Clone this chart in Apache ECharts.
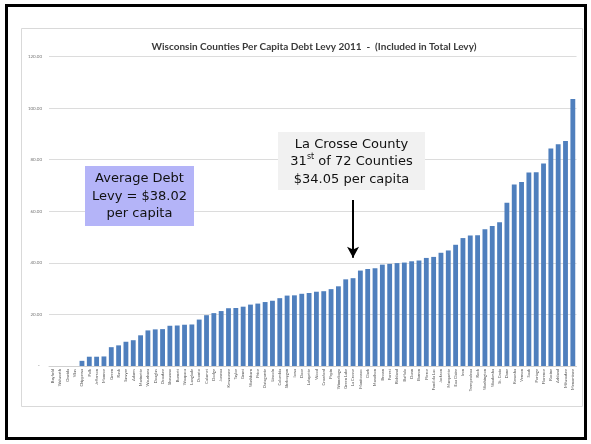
<!DOCTYPE html>
<html>
<head>
<meta charset="utf-8">
<title>Wisconsin Counties Per Capita Debt Levy 2011</title>
<script src="https://cdn.jsdelivr.net/npm/echarts@6/dist/echarts.min.js"></script>
<style>
  html, body { margin: 0; padding: 0; background: #fff; }
  #chart { width: 591px; height: 444px; }
</style>
</head>
<body>
<div id="chart"></div>
<script>
// Counties, ordered from lowest to highest per capita debt levy (2011)
const counties = [
  'Bayfield', 'Walworth', 'Oneida', 'Vilas', 'Chippewa', 'Polk', 'Jefferson', 'Monroe',
  'Green', 'Rusk', 'Sawyer', 'Adams', 'Marinette', 'Waushara', 'Douglas', 'Ozaukee',
  'Shawano', 'Burnett', 'Waupaca', 'Langlade', 'Oconto', 'Calumet', 'Dodge', 'Juneau',
  'Kewaunee', 'Taylor', 'Grant', 'Washburn', 'Price', 'Outagamie', 'Lincoln', 'Columbia',
  'Sheboygan', 'Iowa', 'Door', 'Lafayette', 'Wood', 'Crawford', 'Pepin', 'Winnebago',
  'Green Lake', 'La Crosse', 'Manitowoc', 'Clark', 'Marathon', 'Brown', 'Forest', 'Richland',
  'Buffalo', 'Dunn', 'Barron', 'Pierce', 'Fond du Lac', 'Jackson', 'Marquette', 'Eau Claire',
  'Iron', 'Trempealeau', 'Rock', 'Washington', 'Waukesha', 'St. Croix', 'Dane', 'Kenosha',
  'Vernon', 'Sauk', 'Portage', 'Florence', 'Racine', 'Ashland', 'Milwaukee', 'Menominee'
];

// Debt levy per capita, dollars
const debtPerCapita = [
  0, 0, 0, 0, 2.0, 3.6, 3.6, 3.7,
  7.3, 8.0, 9.4, 10.0, 11.9, 13.8, 14.2, 14.3,
  15.6, 15.7, 16.0, 16.1, 18.0, 19.7, 20.5, 21.3,
  22.4, 22.5, 23.0, 23.8, 24.2, 24.8, 25.3, 26.3,
  27.3, 27.4, 28.0, 28.3, 28.8, 29.0, 29.8, 30.9,
  33.6, 34.05, 37.0, 37.6, 37.9, 39.3, 39.6, 39.9,
  40.1, 40.6, 40.9, 41.9, 42.3, 43.9, 44.8, 47.0,
  49.6, 50.6, 50.7, 53.0, 54.3, 55.7, 63.3, 70.4,
  71.3, 75.0, 75.1, 78.5, 84.3, 86.0, 87.2, 103.5
];

// Value axis ticks
const yTicks = [0, 20, 40, 60, 80, 100, 120];

// Highlighted county and the averages quoted in the callouts
const focusCounty = 'La Crosse';
const focusValue = 34.05;
const averageLevy = 38.02;

const chart = echarts.init(document.getElementById('chart'), null, { renderer: 'canvas' });

const option = {
  animation: false,
  backgroundColor: '#ffffff',
  title: {
    text: 'Wisconsin Counties Per Capita Debt Levy 2011  -  (Included in Total Levy)',
    left: 309,
    textAlign: 'center',
    top: 37,
    textStyle: { fontFamily: 'Lato', fontWeight: 'bold', fontSize: 10, color: '#3a3a3a' }
  },
  grid: { left: 49, right: 14.5, top: 56.5, bottom: 78 },
  xAxis: {
    type: 'category',
    data: counties,
    axisTick: { show: false },
    axisLine: { lineStyle: { color: '#d0d0d0', width: 1 } },
    axisLabel: {
      interval: 0,
      rotate: 90,
      fontFamily: 'Lato',
      fontSize: 4,
      color: '#555',
      margin: 3
    }
  },
  yAxis: {
    type: 'value',
    min: yTicks[0],
    max: yTicks[yTicks.length - 1],
    interval: 20,
    axisLine: { show: false },
    axisTick: { show: false },
    splitLine: { lineStyle: { color: '#dcdcdc', width: 1.2 } },
    axisLabel: {
      fontFamily: 'Lato',
      fontSize: 4.5,
      color: '#777',
      margin: 7,
      formatter: v => (v === 0 ? '-  ' : v.toFixed(2))
    }
  },
  series: [{
    type: 'bar',
    data: debtPerCapita,
    barCategoryGap: '34%',
    itemStyle: { color: '#4f7fbd' },
    silent: true,
    markLine: {
      silent: true,
      symbol: ['none', 'arrow'],
      symbolSize: [9, 11],
      label: { show: false },
      lineStyle: { color: '#000', width: 2, type: 'solid' },
      emphasis: { disabled: true },
      data: [[
        { xAxis: focusCounty, yAxis: 64.4 },
        { xAxis: focusCounty, yAxis: 42 }
      ]]
    }
  }],
  graphic: [
    {
      type: 'rect',
      silent: true,
      z: 100,
      shape: { x: 6.5, y: 5.5, width: 579, height: 433 },
      style: { fill: 'none', stroke: '#000', lineWidth: 3 }
    },
    {
      type: 'rect',
      silent: true,
      z: 100,
      shape: { x: 21.5, y: 28.5, width: 561, height: 378 },
      style: { fill: 'none', stroke: '#d9d9d9', lineWidth: 1 }
    },
    {
      type: 'rect',
      silent: true,
      z: 100,
      shape: { x: 85, y: 166, width: 109, height: 60 },
      style: { fill: '#b4b4f8' }
    },
    {
      type: 'text',
      silent: true,
      z: 101,
      x: 139.5,
      y: 196.5,
      style: {
        text: 'Average Debt\nLevy = $' + averageLevy.toFixed(2) + '\nper capita',
        fontFamily: 'DejaVu Sans',
        fontSize: 13,
        lineHeight: 17.5,
        fill: '#111',
        align: 'center',
        verticalAlign: 'middle'
      }
    },
    {
      type: 'rect',
      silent: true,
      z: 100,
      shape: { x: 278, y: 132, width: 147, height: 58 },
      style: { fill: '#f1f1f1' }
    },
    {
      type: 'text',
      silent: true,
      z: 101,
      x: 351.5,
      y: 162,
      style: {
        text: focusCounty + ' County\n31{sup|st} of 72 Counties\n$' + focusValue.toFixed(2) + ' per capita',
        fontFamily: 'DejaVu Sans',
        fontSize: 13,
        lineHeight: 17.5,
        fill: '#111',
        align: 'center',
        verticalAlign: 'middle',
        rich: {
          sup: { fontFamily: 'DejaVu Sans', fontSize: 8, fill: '#111', verticalAlign: 'top' }
        }
      }
    }
  ]
};

chart.setOption(option);
</script>
</body>
</html>
